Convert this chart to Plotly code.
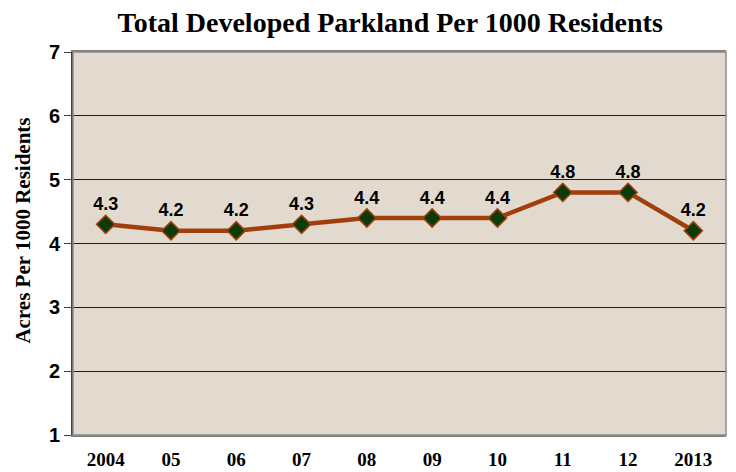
import plotly.graph_objects as go

years = ["2004", "05", "06", "07", "08", "09", "10", "11", "12", "2013"]
acres = [4.3, 4.2, 4.2, 4.3, 4.4, 4.4, 4.4, 4.8, 4.8, 4.2]
labels = ["4.3", "4.2", "4.2", "4.3", "4.4", "4.4", "4.4", "4.8", "4.8", "4.2"]

fig = go.Figure()
fig.add_trace(go.Scatter(
    x=years, y=acres,
    mode="lines+markers+text",
    text=["<b>%s</b>" % t for t in labels],
    textposition="top center",
    textfont=dict(family="Liberation Sans, Arial", size=18, color="black"),
    line=dict(color="#a13e0c", width=4.5),
    marker=dict(symbol="diamond", size=14, color="#0b3a0b", line=dict(color="#a13e0c", width=1.5)),
    cliponaxis=False,
    showlegend=False,
))

# page body has an 8px margin, so the figure is sized to fit the window
fig.update_layout(
    width=728, height=464,
    title=dict(text="<b>Total Developed Parkland Per 1000 Residents</b>",
               x=0.525, xanchor="center", y=0.97, yanchor="middle",
               font=dict(family="Liberation Serif, DejaVu Serif, serif", size=28, color="black")),
    margin=dict(l=65, r=10, t=44, b=37),
    paper_bgcolor="white",
    plot_bgcolor="#e2dace",
)
fig.update_xaxes(
    type="category", range=[-0.5, 9.5], automargin=False,
    showgrid=False, showline=True, linecolor="#7f7f7f", linewidth=1.5, mirror=True,
    ticks="", ticklabelstandoff=6,
    tickfont=dict(family="Liberation Serif, DejaVu Serif, serif", size=19, color="black"),
    tickprefix="<b>", ticksuffix="</b>",
)
fig.update_yaxes(
    range=[1, 7], dtick=1, automargin=False,
    showgrid=True, gridcolor="#222222", gridwidth=1,
    showline=True, linecolor="#404040", linewidth=2, mirror=False,
    ticks="outside", ticklen=7, tickcolor="#404040",
    tickfont=dict(family="Liberation Sans Narrow, Liberation Sans, Arial", size=20, color="black"),
    tickprefix="<b>", ticksuffix="</b>",
)
# y-axis title sits a little above the plot's middle in the original
fig.add_annotation(
    text="<b>Acres Per 1000 Residents</b>", textangle=-90,
    xref="paper", yref="paper", x=-0.077, y=0.533,
    xanchor="center", yanchor="middle", showarrow=False,
    font=dict(family="Liberation Serif, DejaVu Serif, serif", size=21, color="black"),
)
fig.add_shape(type="rect", xref="paper", yref="paper", x0=0, x1=1, y0=0, y1=1,
              line=dict(color="#8a8a8a", width=1.5), layer="above")

fig.write_html("out.html")
